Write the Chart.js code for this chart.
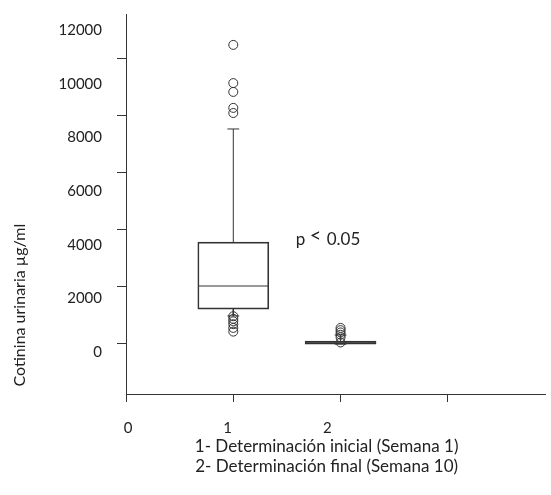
<!DOCTYPE html>
<html>
<head>
<meta charset="utf-8">
<script src="https://cdn.jsdelivr.net/npm/chart.js@4/dist/chart.umd.min.js"></script>
<style>
  html, body { margin: 0; padding: 0; background: #fff; }
  #wrap { width: 551px; height: 495px; }
</style>
</head>
<body>
<div id="wrap"><canvas id="chart" width="551" height="495"></canvas></div>
<script>
// groups on the x axis
const groups = [1, 2];
const groupNames = ['1- Determinación inicial (Semana 1)', '2- Determinación final (Semana 10)'];

// box statistics per group
const q1 = [1190, -40];
const median = [2000, 10];
const q3 = [3540, 70];
const whiskerLow = [950, -40];
const whiskerHigh = [7510, 280];

// outliers per group
const outliers1 = [10460, 9120, 8810, 8250, 8070, 940, 850, 760, 660, 530, 400];
const outliers2 = [530, 450, 370, 290, 200, 20];

// axis ticks and labels
const xTickValues = [0, 1, 2, 3];
const xLabelValues = [0, 1, 2];
const yTickValues = [0, 2000, 4000, 6000, 8000, 10000];
const yLabelValues = [0, 2000, 4000, 6000, 8000, 10000, 12000];

const yTitle = 'Cotinina urinaria µg/ml';
const pNote = ['p', '<', '0.05'];

const INK = '#333';
const TEXT = '#222';
const FONT = 'Lato, "Open Sans", sans-serif';
const boxHalf = 0.327;
const capHalf = 0.055;

function segs(list) {
  // join segments with a gap point between them
  const out = [];
  list.forEach(s => { out.push(...s); out.push({ x: s[0].x, y: null }); });
  return out;
}

function noPad(s) {
  s.paddingTop = 0; s.paddingBottom = 0; s.paddingLeft = 0; s.paddingRight = 0;
}

const boxData = groups.map((g, i) => ({ x: g, y: [q1[i], q3[i]] }));
const medianData = segs(groups.map((g, i) => [{ x: g - boxHalf, y: median[i] }, { x: g + boxHalf, y: median[i] }]));
const whiskerData = segs(groups.flatMap((g, i) => [
  [{ x: g, y: q3[i] }, { x: g, y: whiskerHigh[i] }],
  [{ x: g, y: q1[i] }, { x: g, y: whiskerLow[i] }]
]));
const capData = segs(groups.flatMap((g, i) => [
  [{ x: g - capHalf, y: whiskerHigh[i] }, { x: g + capHalf, y: whiskerHigh[i] }],
  [{ x: g - capHalf, y: whiskerLow[i] }, { x: g + capHalf, y: whiskerLow[i] }]
]));
const outlierData = outliers1.map(v => ({ x: groups[0], y: v }))
  .concat(outliers2.map(v => ({ x: groups[1], y: v })));

const lineStyle = { type: 'scatter', showLine: true, pointRadius: 0, borderColor: INK, borderWidth: 1, xAxisID: 'x', yAxisID: 'y' };

const textPlugin = {
  id: 'texts',
  afterDraw(chart) {
    const ctx = chart.ctx;
    const xs = chart.scales.x, ys = chart.scales.y;
    ctx.save();
    ctx.fillStyle = TEXT;
    // y title
    ctx.font = '16px ' + FONT;
    ctx.textAlign = 'center';
    ctx.textBaseline = 'middle';
    ctx.translate(20, ys.getPixelForValue(1330));
    ctx.rotate(-Math.PI / 2);
    ctx.fillText(yTitle, 0, 0);
    ctx.setTransform(1, 0, 0, 1, 0, 0);
    // p note
    const px = xs.getPixelForValue(1.582), py = ys.getPixelForValue(3440);
    ctx.textAlign = 'left';
    ctx.textBaseline = 'alphabetic';
    ctx.font = '17px ' + FONT;
    ctx.fillText(pNote[0], px, py);
    ctx.font = '20px ' + FONT;
    ctx.fillText(pNote[1], px + 14, py - 3);
    ctx.font = '17px ' + FONT;
    ctx.fillText(pNote[2], px + 31, py);
    // group names below the axis
    ctx.font = '17px ' + FONT;
    ctx.textAlign = 'center';
    ctx.textBaseline = 'middle';
    const cx = xs.getPixelForValue(1.87);
    groupNames.forEach((t, i) => ctx.fillText(t, cx, 447 + i * 20));
    ctx.restore();
  }
};

new Chart(document.getElementById('chart'), {
  type: 'bar',
  data: {
    datasets: [
      { type: 'bar', data: boxData, barThickness: 71, backgroundColor: 'rgba(0,0,0,0)', borderColor: INK, borderWidth: 1, borderSkipped: false, xAxisID: 'x', yAxisID: 'y' },
      Object.assign({ data: medianData }, lineStyle),
      Object.assign({ data: whiskerData }, lineStyle),
      Object.assign({ data: capData }, lineStyle),
      { type: 'scatter', data: outlierData, pointStyle: 'circle', pointRadius: 4.5, borderColor: INK, borderWidth: 1, backgroundColor: 'rgba(0,0,0,0)', xAxisID: 'x', yAxisID: 'y' }
    ]
  },
  options: {
    responsive: false,
    devicePixelRatio: 1,
    animation: false,
    layout: { padding: { top: 14, left: 0, right: 0, bottom: 0 } },
    plugins: { legend: { display: false }, tooltip: { enabled: false } },
    scales: {
      x: {
        type: 'linear', position: 'bottom', weight: 0, min: 0, max: 3.91, offset: false,
        afterBuildTicks: s => { s.ticks = xTickValues.map(v => ({ value: v })); },
        afterFit: s => { s.height = 8; noPad(s); },
        grid: { offset: false, drawOnChartArea: false, drawTicks: true, tickLength: 8, color: INK },
        border: { color: INK, width: 1 },
        ticks: { display: false }
      },
      xLab: {
        type: 'linear', position: 'bottom', weight: 1, min: -0.02, max: 4.19, offset: false,
        afterBuildTicks: s => { s.ticks = xLabelValues.map(v => ({ value: v })); },
        afterFit: s => { s.height = 93; noPad(s); },
        grid: { offset: false, display: false, drawTicks: false },
        border: { display: false },
        ticks: { color: TEXT, font: { family: FONT, size: 15 }, padding: 17, maxRotation: 0 }
      },
      y: {
        type: 'linear', position: 'left', weight: 0, min: -1789, max: 11544,
        afterBuildTicks: s => { s.ticks = yTickValues.map(v => ({ value: v })); },
        afterFit: s => { s.width = 9; noPad(s); },
        grid: { drawOnChartArea: false, drawTicks: true, tickLength: 9, color: INK },
        border: { color: INK, width: 1 },
        ticks: { display: false }
      },
      yLab: {
        type: 'linear', position: 'left', weight: 1, min: -1565, max: 12597,
        afterBuildTicks: s => { s.ticks = yLabelValues.map(v => ({ value: v })); },
        afterFit: s => { s.width = 117; noPad(s); },
        grid: { display: false, drawTicks: false },
        border: { display: false },
        ticks: { color: TEXT, font: { family: FONT, size: 15 }, padding: 15, callback: v => String(v) }
      }
    }
  },
  plugins: [textPlugin]
});
</script>
</body>
</html>
